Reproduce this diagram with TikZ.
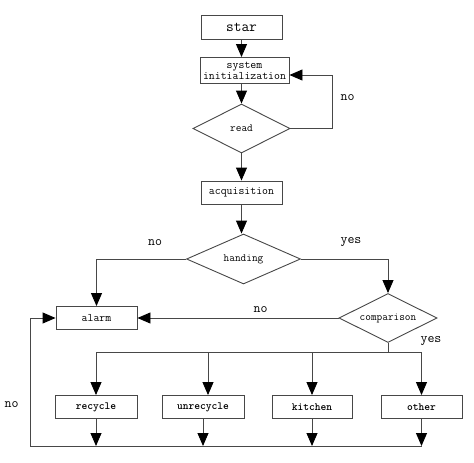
\documentclass[tikz,border=0pt]{standalone}
\usetikzlibrary{arrows.meta,shapes.geometric}
\begin{document}
\begin{tikzpicture}[x=1pt,y=-1pt,
  line/.style={draw=black!72, line width=0.9pt},
  arr/.style={line, -{Triangle[width=11pt,length=13pt,color=black,fill=black]}},
  box/.style={draw=black!72, line width=0.9pt, rectangle, minimum width=#1, minimum height=23pt, inner sep=0pt, font=\ttfamily\fontsize{11.5}{12}\selectfont},
  bbox/.style={box=#1, font=\ttfamily\bfseries\fontsize{11}{12}\selectfont},
  dia/.style={draw=black!72, line width=0.9pt, diamond, aspect=2, inner sep=0pt, font=\ttfamily\fontsize{11}{12}\selectfont},
  lab/.style={font=\ttfamily\fontsize{13.5}{14}\selectfont, inner sep=0pt}]
\useasboundingbox (0,0) rectangle (474,463);

\node[box=81pt, minimum height=24pt, font=\ttfamily\fontsize{15}{16}\selectfont] (star) at (241.5,27.5) {star};
\node[box=89pt, minimum height=26pt, align=center, font=\ttfamily\fontsize{11.5}{11}\selectfont] (init) at (244.5,70.5) {system\\initialization};
\node[dia, minimum width=97pt, minimum height=49pt] (read) at (241.5,128.5) {read};
\node[box=81pt] (acq) at (241.5,192.5) {acquisition};
\node[dia, minimum width=114pt, minimum height=50pt] (hand) at (243.5,259) {handing};
\node[dia, minimum width=98pt, minimum height=49pt] (comp) at (388,318) {comparison};
\node[box=81pt] (alarm) at (96.5,318) {alarm};
\node[bbox=82pt] (rec) at (96,407) {recycle};
\node[bbox=82pt] (unrec) at (203,407) {unrecycle};
\node[bbox=80pt] (kit) at (312,407) {kitchen};
\node[bbox=81pt] (oth) at (421.5,407) {other};

\coordinate (lp) at (332,75);
\coordinate (hl) at (96.5,259);
\coordinate (hr) at (388,259);
\coordinate (bus) at (388,352);
\coordinate (b1) at (96,352);
\coordinate (b2) at (208,352);
\coordinate (b3) at (312,352);
\coordinate (b4) at (421.5,352);
\coordinate (c0) at (30.7,446);
\coordinate (c2) at (203,446);

\draw[arr] (star) -- (star.south |- init.north);
\draw[arr] (init.south -| read.north) -- (read.north);
\draw[arr] (read.east) -| (lp) -- (init.east |- lp);
\draw[arr] (read.south) -- (acq.north);
\draw[arr] (acq.south) -- (acq.south |- hand.north);
\draw[arr] (hand.west) -- (hl) -- (alarm.north);
\draw[arr] (hand.east) -- (hr) -- (comp.north);
\draw[arr] (comp.west) -- (alarm.east);
\draw[line] (comp.south) -- (bus);
\draw[line] (b1) -- (b4);
\draw[arr] (b1) -- (rec.north);
\draw[arr] (b2) -- (b2 |- unrec.north);
\draw[arr] (b3) -- (kit.north);
\draw[arr] (b4) -- (oth.north);
\draw[arr] (rec.south) -- (rec.south |- c0);
\draw[arr] (unrec.south) -- (c2);
\draw[arr] (kit.south) -- (kit.south |- c0);
\draw[arr] (oth.south) -- (oth.south |- c0);
\draw[arr] (oth.south |- c0) -- (c0) -- (c0 |- alarm.west) -- (alarm.west);

\node[lab] (n1) at (347.5,98) {no};
\node[lab] (n2) at (155,243) {no};
\node[lab] (y1) at (351,242) {yes};
\node[lab] (n3) at (260.5,310) {no};
\node[lab] (y2) at (431,341) {yes};
\node[lab] (n4) at (11.7,405) {no};
\end{tikzpicture}
\end{document}
